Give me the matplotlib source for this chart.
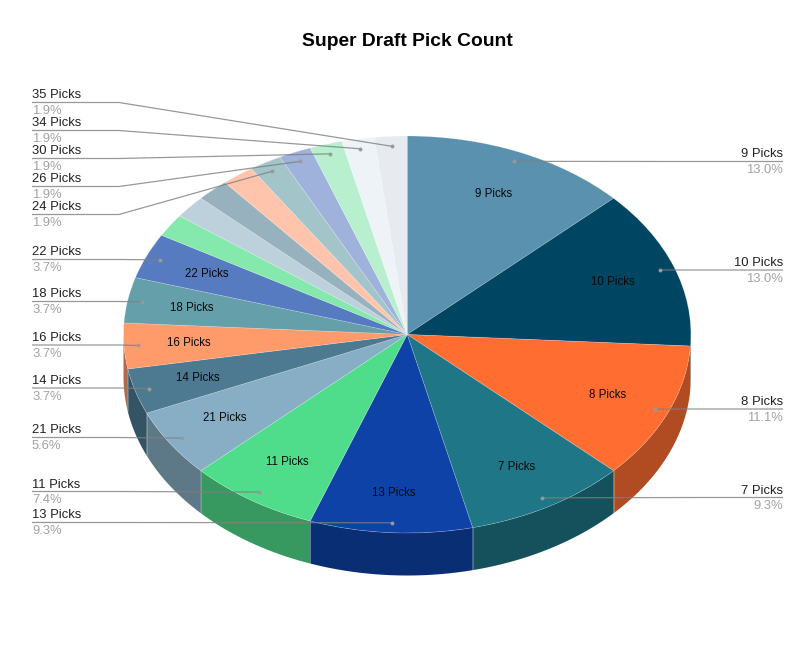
import numpy as np
import matplotlib
matplotlib.use("Agg")
import matplotlib.pyplot as plt

# Datos del grafico
labels = ["9 Picks", "10 Picks", "8 Picks", "7 Picks", "13 Picks", "11 Picks", "21 Picks",
          "14 Picks", "16 Picks", "18 Picks", "22 Picks", "", "", "", "",
          "24 Picks", "26 Picks", "30 Picks", "34 Picks", "35 Picks"]
counts = [7, 7, 6, 5, 5, 4, 3, 2, 2, 2, 2, 1, 1, 1, 1, 1, 1, 1, 1, 1]
colors = ["#5A91AF", "#004663", "#FF6D31", "#1F7686", "#0F42A6", "#4FDC8B", "#87AEC4",
          "#4D7A90", "#FF9A6B", "#659FA9", "#567BC1", "#85E8AC", "#BCD1DC", "#97B2BE",
          "#FFC4AB", "#A3C4C9", "#9EB2DB", "#B8F0CF", "#EEF3F7", "#E7EBEF"]

# Altura en pixeles de la linea de cada etiqueta
label_y = {"9 Picks": 161.5, "10 Picks": 270, "8 Picks": 409, "7 Picks": 497.5,
           "13 Picks": 522.5, "11 Picks": 491.5, "21 Picks": 437.5, "14 Picks": 388,
           "16 Picks": 345, "18 Picks": 301.5, "22 Picks": 259.5, "24 Picks": 214.5,
           "26 Picks": 186.5, "30 Picks": 158.5, "34 Picks": 130.5, "35 Picks": 102.5}

W, H = 812, 668
cx, cy = 407.2, 334.5
rx, ry = 283.7, 198.5
depth = 42.5

plt.rcParams["font.family"] = ["Liberation Sans", "DejaVu Sans"]


def to_x(px):
    return (px - cx) / rx


def to_y(py):
    return (cy - py) / ry


def darker(color, factor=0.69):
    r, g, b = matplotlib.colors.to_rgb(color)
    return (r * factor, g * factor, b * factor)


fig = plt.figure(figsize=(W / 100, H / 100), dpi=100)
ax = fig.add_axes([0, 0, 1, 1])

# Cara superior
ax.pie(counts, colors=colors, startangle=90, counterclock=False, radius=1,
       wedgeprops={"edgecolor": (1, 1, 1, 0.25), "linewidth": 0.5, "zorder": 3})
ax.set_aspect("auto")
ax.set_xlim(to_x(0), to_x(W))
ax.set_ylim(to_y(H), to_y(0))

total = sum(counts)
edges = np.cumsum([0] + counts) / total * 2 * np.pi
mids = (edges[:-1] + edges[1:]) / 2
drop = depth / ry

# Cara lateral, solo la parte que mira hacia abajo
for i, color in enumerate(colors):
    a0 = max(edges[i], np.pi / 2)
    a1 = min(edges[i + 1], 3 * np.pi / 2)
    if a1 <= a0:
        continue
    t = np.linspace(a0, a1, 60)
    xs = np.concatenate([np.sin(t), np.sin(t[::-1])])
    ys = np.concatenate([np.cos(t), np.cos(t[::-1]) - drop])
    ax.fill(xs, ys, color=darker(color), linewidth=0, zorder=1)
    if np.pi / 2 < edges[i] < 3 * np.pi / 2:
        ax.plot([np.sin(a0)] * 2, [np.cos(a0), np.cos(a0) - drop],
                color=(1, 1, 1, 0.25), lw=0.6, zorder=2)

# Etiquetas dentro de la torta y lineas guia
for i, name in enumerate(labels):
    if name == "":
        continue
    sx, sy = np.sin(mids[i]), np.cos(mids[i])
    if counts[i] >= 2:
        k = 0.80 if name == "13 Picks" else 0.77  # esta va un poco mas abajo
        ax.text(k * sx, k * sy, name, fontsize=8.3, color="#0a0a0a",
                ha="center", va="center", zorder=6)

    ly = label_y[name]
    right = sx > 0
    elbow, end = (696, 783) if right else (119, 32)
    ax.plot([0.95 * sx, to_x(elbow), to_x(end)], [0.95 * sy, to_y(ly), to_y(ly)],
            color="#7f7f7f", lw=0.9, alpha=0.8, solid_capstyle="butt", zorder=5)
    ax.plot([0.95 * sx], [0.95 * sy], marker="o", ms=2.8, color="#999999", mew=0, zorder=6)

    ha = "right" if right else "left"
    ax.text(to_x(end), to_y(ly - 4), name, fontsize=9.4, color="#222222",
            ha=ha, va="baseline", zorder=6)
    ax.text(to_x(end), to_y(ly + 11.8), f"{counts[i] / total * 100:.1f}%", fontsize=9.4,
            color="#a3a3a3", ha=ha, va="baseline", zorder=6)

ax.text(to_x(407.5), to_y(46), "Super Draft Pick Count", fontsize=13.9, fontweight="bold",
        color="#000000", ha="center", va="baseline")

fig.savefig("out.png", dpi=100, facecolor="white")
